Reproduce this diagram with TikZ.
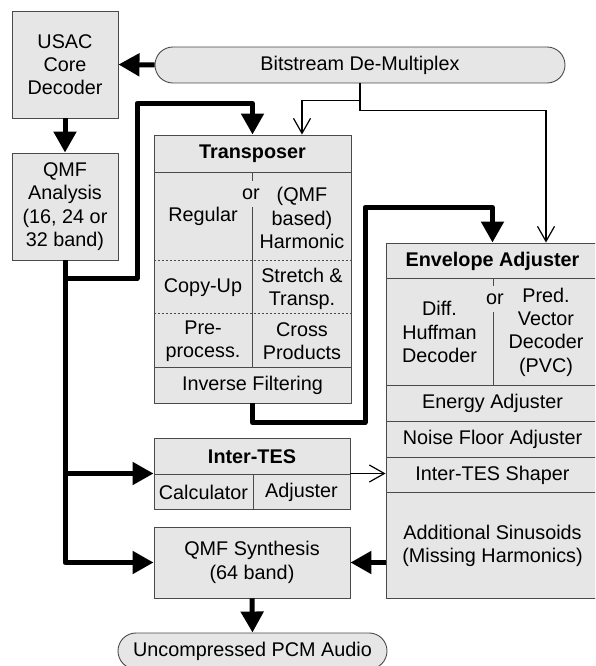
\documentclass[tikz,border=0pt]{standalone}
\usepackage{fontspec}
\setmainfont{Liberation Sans}
\usetikzlibrary{arrows.meta}
\definecolor{boxfill}{HTML}{E6E6E6}
\definecolor{bordercol}{HTML}{4A4A4A}
\newcommand{\diafont}{\fontsize{19.8}{23.3}\selectfont}
\tikzset{
  box/.style={draw=bordercol, fill=boxfill, line width=0.9pt, inner sep=0pt, align=center, font=\diafont},
  pill/.style={box, rounded corners=17.9pt},
  txt/.style={inner sep=0pt, align=center, font=\diafont},
  ornode/.style={txt, fill=boxfill, inner xsep=0.5pt, minimum height=26pt},
  sepline/.style={draw=bordercol, line width=0.9pt},
  dotline/.style={draw=bordercol, line width=0.8pt, dash pattern=on 2pt off 2pt},
  thickarrow/.style={draw=black, line width=5pt, line join=round, -{Triangle[length=21pt,width=22pt]}},
  thickline/.style={draw=black, line width=5pt, line join=round},
  thinarrow/.style={draw=black, line width=1.2pt, -{Straight Barb[length=15pt,width=17pt]}},
}
\begin{document}
\begin{tikzpicture}[x=1pt, y=-1pt]
\useasboundingbox (0,0) rectangle (595,666);
\clip (0,0) rectangle (595,666);

% boxes
\node[box, minimum width=106pt, minimum height=107pt] (usac) at (65,64.5) {USAC\\Core\\Decoder};
\node[box, minimum width=106pt, minimum height=107pt] (qmfa) at (65,206.5) {QMF\\Analysis\\(16, 24 or\\32 band)};
\node[pill, minimum width=410pt, minimum height=36pt] (bs) at (360,65) {Bitstream De-Multiplex};
\node[pill, minimum width=269pt, minimum height=36pt] (pcm) at (252.5,651) {Uncompressed PCM Audio};

% Transposer
\node[box, minimum width=197pt, minimum height=268pt] (trans) at (252.5,269) {};
\path[sepline] (154,172) -- (351,172);
\path[dotline] (154,260) -- (351,260);
\path[dotline] (154,313) -- (351,313);
\path[sepline] (154,367) -- (351,367);
\path[sepline] (252,172) -- (252,367);
\node[txt] (ttitle) at (252.5,153.5) {\textbf{Transposer}};
\node[ornode] (tor) at (251,194) {or};
\node[txt] (treg) at (203,216) {Regular};
\node[txt, text depth=0pt] (tharm) at (302,218) {(QMF\\based)\\Harmonic};
\node[txt] (tcopy) at (203,288) {Copy-Up};
\node[txt] (tstretch) at (302,289) {Stretch \&\\Transp.};
\node[txt] (tpre) at (203,341) {Pre-\\process.};
\node[txt] (tcross) at (302,341) {Cross\\Products};
\node[txt] (tinv) at (252.5,385) {Inverse Filtering};

% Envelope Adjuster
\node[box, minimum width=213pt, minimum height=355pt] (env) at (492.5,420.5) {};
\path[sepline] (386,278) -- (599,278);
\path[sepline] (386,385) -- (599,385);
\path[sepline] (386,421) -- (599,421);
\path[sepline] (386,457) -- (599,457);
\path[sepline] (386,492) -- (599,492);
\path[sepline] (493,278) -- (493,385);
\node[txt] (etitle) at (492.5,261) {\textbf{Envelope Adjuster}};
\node[ornode] (eor) at (495,299) {or};
\node[txt] (diff) at (439.5,332) {Diff.\\Huffman\\Decoder};
\node[txt] (pred) at (546,332) {Pred.\\Vector\\Decoder\\(PVC)};
\node[txt] (energy) at (492.5,403.5) {Energy Adjuster};
\node[txt] (noise) at (492.5,439.5) {Noise Floor Adjuster};
\node[txt] (shaper) at (492.5,475) {Inter-TES Shaper};
\node[txt] (sinus) at (492.5,546) {Additional Sinusoids\\(Missing Harmonics)};

% Inter-TES
\node[box, minimum width=196pt, minimum height=71pt] (itbox) at (252,473.5) {};
\path[sepline] (154,474) -- (350,474);
\path[sepline] (253,474) -- (253,509);
\node[txt] (ittitle) at (252,456.5) {\textbf{Inter-TES}};
\node[txt] (calc) at (203.5,492) {Calculator};
\node[txt] (adj) at (301.5,492) {Adjuster};

% QMF Synthesis
\node[box, minimum width=196pt, minimum height=71pt] (qmfs) at (252,562.5) {QMF Synthesis\\(64 band)};

% connectors
\draw[thickarrow] (bs.west) -- (usac.east);
\draw[thickarrow] (usac.south) -- (qmfa.north);
\draw[thickarrow] (qmfa.south) |- (qmfs.west);
\draw[thickarrow] (qmfa.south) ++(0,18) -- ++(72,0) -- ++(0,-175) -| (trans.north);
\draw[thickarrow] (qmfa.south |- itbox.west) -- (itbox.west);
\draw[thickarrow] (trans.south) -- ++(0,19) -- ++(112.5,0) -- ++(0,-215) -| (env.north);
\draw[thinarrow] (bs.south) -- ++(0,17) -| (trans.north -| tharm);
\draw[thinarrow] (bs.south) -- ++(0,27) -| (env.north -| pred);
\draw[thinarrow] (itbox.east) -- (env.west |- itbox.east);
\draw[thickarrow] (env.west |- qmfs.east) -- (qmfs.east);
\draw[thickarrow] (qmfs.south) -- (pcm.north);
\end{tikzpicture}
\end{document}
